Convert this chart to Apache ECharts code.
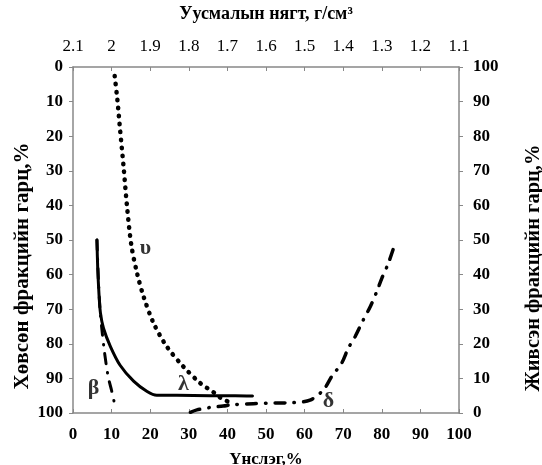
<!DOCTYPE html>
<html><head><meta charset="utf-8">
<script src="https://cdn.jsdelivr.net/npm/echarts@6/dist/echarts.min.js"></script>
<style>html,body{margin:0;padding:0;background:#fff}#c{width:542px;height:465px}</style>
</head><body><div id="c"></div>
<script>
// Top axis tick labels (density, g/cm3), left to right
var densityLabels = ['2.1','2','1.9','1.8','1.7','1.6','1.5','1.4','1.3','1.2','1.1'];
// Curve υ (dotted): [ash %, floated yield %]
var upsilon = [[10.8,2.6],[11.5,9.5],[12.2,18.2],[13.1,28.8],[14.0,40.4],[15.1,51.4],[16.6,59.6],[18.3,66.4],[20.9,74.1],[24.3,80.8],[28.6,86.6],[33.0,91.4],[36.4,94.0],[38.1,95.5],[41.0,97.2]];
// Curve λ (solid)
var lambda = [[6.2,50],[6.4,58],[6.7,65],[7.1,71],[7.9,75.5],[9.7,80.8],[12.2,86.2],[15.7,90.8],[19.2,93.8],[21.7,94.9],[26.9,94.9],[35.5,95.0],[42.0,95.0],[46.5,95.1]];
// Curve β (dash-dot)
var beta = [[6.2,50],[6.6,62],[7.0,70],[7.5,76],[8.0,81],[8.6,86],[9.2,90],[10.0,93.5],[10.8,97.5]];
// Curve δ (dash-dot)
var delta = [[30.4,99.8],[32.1,99.1],[35.5,98.4],[38.9,98.0],[41.4,97.6],[46.7,97.3],[52.8,97.1],[57.1,97.0],[61.4,96.3],[64.9,93.3],[67.0,89.5],[69.6,85.6],[71.3,81.3],[73.1,77.9],[75.2,73.1],[77.0,69.3],[78.7,64.9],[80.0,61.1],[81.7,56.7],[83.6,50.5]];
// Curve name labels: [x, y, text]
var curveLabels = [[18.8,52.3,'υ'],[28.6,91.6,'λ'],[5.3,92.9,'β'],[66.2,96.7,'δ']];

var serif = '"Liberation Serif","DejaVu Serif",serif';
var axisColor = '#888';
var tickFont = {fontFamily: serif, fontWeight: 'bold', fontSize: 17, color: '#000'};
function titleFont(sz, extra) { return Object.assign({fontFamily: serif, fontWeight: 'bold', fontSize: sz, color: '#000'}, extra || {}); }

var chart = echarts.init(document.getElementById('c'), null, {renderer: 'canvas'});
chart.setOption({
  animation: false,
  backgroundColor: '#fff',
  grid: {left: 73, right: 83, top: 67, bottom: 52, containLabel: false, outerBoundsMode: 'none'},
  xAxis: [
    {type: 'value', min: 0, max: 100, interval: 10, position: 'bottom',
     name: 'Үнслэг,%', nameLocation: 'middle', nameGap: 38,
     nameTextStyle: titleFont(17),
     axisLine: {lineStyle: {color: axisColor, width: 1.5}},
     axisTick: {show: true, length: 4, lineStyle: {color: axisColor}},
     axisLabel: Object.assign({margin: 13}, tickFont),
     splitLine: {show: false}},
    {type: 'category', data: densityLabels, boundaryGap: false, position: 'top',
     name: 'Уусмалын нягт, г/см³', nameLocation: 'middle', nameGap: 44,
     nameTextStyle: titleFont(18),
     axisLine: {lineStyle: {color: axisColor, width: 1.5}},
     axisTick: {show: true, length: 4, lineStyle: {color: axisColor}},
     axisLabel: Object.assign({margin: 12}, tickFont, {fontWeight: 'normal'}),
     splitLine: {show: false}}
  ],
  yAxis: [
    {type: 'value', min: 0, max: 100, interval: 10, inverse: true, position: 'left',
     name: 'Хөвсөн фракцийн гарц,%', nameLocation: 'middle', nameGap: 40, nameRotate: 90,
     nameMoveOverlap: false,
     nameTextStyle: titleFont(21, {padding: [0, 52, 0, 0]}),
     axisLine: {show: true, lineStyle: {color: axisColor, width: 1.5}},
     axisTick: {show: true, length: 4, lineStyle: {color: axisColor}},
     axisLabel: Object.assign({margin: 10}, tickFont),
     splitLine: {show: false}},
    {type: 'value', min: 0, max: 100, interval: 10, position: 'right',
     name: 'Живсэн фракцийн гарц,%', nameLocation: 'middle', nameGap: 64, nameRotate: 90,
     nameTextStyle: titleFont(20.5, {padding: [0, 56, 0, 0]}),
     axisLine: {show: true, lineStyle: {color: axisColor, width: 1.5}},
     axisTick: {show: true, length: 4, lineStyle: {color: axisColor}},
     axisLabel: Object.assign({margin: 14}, tickFont),
     splitLine: {show: false}}
  ],
  series: [
    {type: 'line', name: 'υ', data: upsilon, smooth: 0.3, symbol: 'none',
     lineStyle: {color: '#000', width: 4.5, type: [0.5, 7.5], cap: 'round'}},
    {type: 'line', name: 'λ', data: lambda, smooth: 0.3, symbol: 'none',
     lineStyle: {color: '#000', width: 3, cap: 'round', join: 'round'}},
    {type: 'line', name: 'β', data: beta, smooth: 0.3, symbol: 'none',
     lineStyle: {color: '#000', width: 3, type: [10, 9, 0.5, 9], cap: 'round'}},
    {type: 'line', name: 'δ', data: delta, smooth: 0.3, symbol: 'none',
     lineStyle: {color: '#000', width: 3.5, type: [10, 9, 0.5, 9], cap: 'round'}},
    {type: 'scatter', name: 'labels', symbolSize: 0, silent: true,
     data: curveLabels.map(function(d){ return {value: [d[0], d[1]], name: d[2]}; }),
     label: {show: true, position: 'inside', formatter: '{b}',
       fontFamily: serif, fontWeight: 'bold', fontSize: 22, color: '#000'}}
  ]
});
</script></body></html>
